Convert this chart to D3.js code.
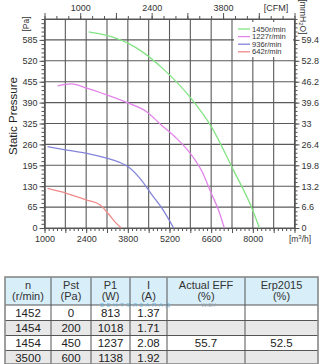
<!DOCTYPE html>
<html><head><meta charset="utf-8">
<script src="https://cdn.jsdelivr.net/npm/d3@7"></script>
<style>
body{margin:0;background:#fff;}
svg{display:block;font-family:"Liberation Sans",Arial,sans-serif;}
</style></head><body>
<svg id="c" width="324" height="364"></svg>
<script>
// ---- data ----
const seriesNames = ["1450r/min","1227r/min","936r/min","642r/min"];
const seriesColors = ["#84e484","#e284ea","#8484dc","#f08a8a"];
const green1450 = [[2480,610],[2900,603],[3290,594],[3800,575],[4300,547],[4950,498],[5890,407],[6600,316],[7310,187],[8020,50],[8220,0]];
const pink1227 = [[1440,442],[1700,447],[1910,448],[2420,435],[3090,414],[3800,389],[4440,361],[4950,318],[5390,283],[5890,233],[6300,174],[6600,109],[6870,50],[7040,0]];
const blue936 = [[1100,253],[1700,243],[2420,232],[3090,217],[3500,205],[3800,191],[4200,155],[4610,103],[4950,61],[5340,0]];
const red642 = [[1100,123],[1740,108],[2420,87],[2860,72],[3130,46],[3360,20],[3580,0]];
const seriesData = [green1450, pink1227, blue936, red642];

const xBottomLabels = [1000,2400,3800,5200,6600,8000];
const xTopLabels = [1000,2400,3800];
const yLeftLabels = [0,65,130,195,260,325,390,455,520,585];
const yRightLabels = [0,6.6,13.2,19.8,26.4,33,39.6,46.2,52.8,59.4];

const tableHeader1 = ["n","Pst","P1","I","Actual EFF","Erp2015"];
const tableHeader2 = ["(r/min)","(Pa)","(W)","(A)","(%)","(%)"];
const colN = ["1452","1454","1454","3500"];
const colPst = ["0","200","450","600"];
const colP1 = ["813","1018","1237","1138"];
const colI = ["1.37","1.71","2.08","1.92"];
const colEff = ["","","55.7",""];
const colErp = ["","","52.5",""];

// ---- chart ----
const svg = d3.select("#c");
const x = d3.scaleLinear().domain([1000,9400]).range([44.5,294.5]);
const y = d3.scaleLinear().domain([0,650]).range([228,19]);
const xTop = d3.scaleLinear().domain([300,5200]).range([44.5,294.5]);
const yR = d3.scaleLinear().domain([0,66]).range([228,19]);

const axisColor = "#555", txtColor = "#333";

// grid
const grid = svg.append("g");
grid.selectAll("line.v").data(d3.range(1000,9401,700)).join("line")
  .attr("x1",d=>x(d)).attr("x2",d=>x(d)).attr("y1",y(0)).attr("y2",y(650))
  .attr("stroke","#5a5a5a").attr("stroke-width",1.1);
grid.selectAll("line.h").data(d3.range(0,651,65)).join("line")
  .attr("x1",x(1000)).attr("x2",x(9400)).attr("y1",d=>y(d)).attr("y2",d=>y(d))
  .attr("stroke","#5a5a5a").attr("stroke-width",1.1);

function styleAxis(g){
  g.selectAll("path").attr("stroke",axisColor);
  g.selectAll("line").attr("stroke",axisColor);
  g.selectAll("text").attr("fill",txtColor).attr("font-size",9).attr("font-family","Liberation Sans, Arial, sans-serif");
}

// bottom
svg.append("g").attr("transform",`translate(0,${y(0)})`)
  .call(d3.axisBottom(x).tickValues(d3.range(1000,9401,140)).tickSize(3).tickFormat("").tickSizeOuter(0)).call(styleAxis);
svg.append("g").attr("transform",`translate(0,${y(0)})`)
  .call(d3.axisBottom(x).tickValues(d3.range(1000,9401,700)).tickSize(5).tickFormat(d=>xBottomLabels.includes(d)?d:"").tickSizeOuter(0).tickPadding(3)).call(styleAxis);
// top
svg.append("g").attr("transform",`translate(0,${y(650)})`)
  .call(d3.axisTop(xTop).tickValues(d3.range(300,5201,700/3)).tickSize(3).tickFormat("").tickSizeOuter(0)).call(styleAxis);
svg.append("g").attr("transform",`translate(0,${y(650)})`)
  .call(d3.axisTop(xTop).tickValues(d3.range(300,5201,700)).tickSize(6).tickFormat(d=>xTopLabels.includes(d)?d:"").tickSizeOuter(0).tickPadding(2)).call(styleAxis);
// left
svg.append("g").attr("transform",`translate(${x(1000)},0)`)
  .call(d3.axisLeft(y).tickValues(d3.range(0,651,13)).tickSize(3).tickFormat("").tickSizeOuter(0)).call(styleAxis);
svg.append("g").attr("transform",`translate(${x(1000)},0)`)
  .call(d3.axisLeft(y).tickValues(yLeftLabels).tickSize(5).tickPadding(2).tickSizeOuter(0)).call(styleAxis);
// right
svg.append("g").attr("transform",`translate(${x(9400)},0)`)
  .call(d3.axisRight(yR).tickValues(d3.range(0,66.01,1.32)).tickSize(3).tickFormat("").tickSizeOuter(0)).call(styleAxis);
svg.append("g").attr("transform",`translate(${x(9400)},0)`)
  .call(d3.axisRight(yR).tickValues(yRightLabels).tickSize(5).tickPadding(2).tickFormat(d=>d3.format("~g")(d)).tickSizeOuter(0)).call(styleAxis);

// unit labels
svg.append("text").attr("x",276).attr("y",11).attr("text-anchor","middle").attr("font-size",9).attr("fill",txtColor).text("[CFM]");
svg.append("text").attr("transform","translate(29,24) rotate(-90)").attr("text-anchor","middle").attr("font-size",8.5).attr("fill",txtColor).text("[Pa]");
svg.append("text").attr("transform","translate(300,17) rotate(90)").attr("text-anchor","middle").attr("font-size",8.5).attr("fill",txtColor)
  .html('[mmH<tspan font-size="6" dy="1.5">2</tspan><tspan dy="-1.5">O]</tspan>');
svg.append("text").attr("x",300).attr("y",242).attr("text-anchor","middle").attr("font-size",8.5).attr("fill",txtColor)
  .html('[m<tspan font-size="6" dy="-3">3</tspan><tspan dy="3">/h]</tspan>');
svg.append("text").attr("transform","translate(17,116) rotate(-90)").attr("text-anchor","middle").attr("font-size",11.5).attr("fill","#222").text("Static Pressure");

// curves
const line = d3.line().x(d=>x(d[0])).y(d=>y(d[1])).curve(d3.curveMonotoneX);
svg.append("g").selectAll("path").data(seriesData).join("path")
  .attr("d",line).attr("fill","none").attr("stroke",(d,i)=>seriesColors[i]).attr("stroke-width",1.3);

// legend
const lg = svg.append("g");
lg.append("rect").attr("x",234).attr("y",22).attr("width",59).attr("height",35).attr("fill","#fff");
seriesNames.forEach((n,i)=>{
  const yy = 29 + i*7.6;
  lg.append("line").attr("x1",238).attr("x2",250).attr("y1",yy).attr("y2",yy).attr("stroke",seriesColors[i]).attr("stroke-width",1.3);
  lg.append("text").attr("x",252).attr("y",yy+2.6).attr("font-size",7.6).attr("fill",txtColor).text(n);
});

// ---- table ----
const colX = [5,51,91,130,167,245,318];
const rowY = [277,305,320.5,335.5,350.5,364];
const tb = svg.append("g");
const rowFills = ["#d8eef9","#ffffff","#e8e8e8","#ffffff","#e8e8e8"];
tb.selectAll("rect.r").data(rowFills).join("rect")
  .attr("x",colX[0]).attr("y",(d,i)=>rowY[i]).attr("width",colX[6]-colX[0]).attr("height",(d,i)=>rowY[i+1]-rowY[i]).attr("fill",d=>d);
tb.selectAll("line.hl").data(rowY.slice(1,5)).join("line")
  .attr("x1",colX[0]).attr("x2",colX[6]).attr("y1",d=>d).attr("y2",d=>d).attr("stroke","#555").attr("stroke-width",1);
tb.selectAll("line.vl").data(colX.slice(1,6)).join("line")
  .attr("x1",d=>d).attr("x2",d=>d).attr("y1",rowY[0]).attr("y2",rowY[5]).attr("stroke","#555").attr("stroke-width",1);
tb.append("rect").attr("x",colX[0]).attr("y",rowY[0]).attr("width",colX[6]-colX[0]).attr("height",rowY[5]-rowY[0])
  .attr("fill","none").attr("stroke","#888").attr("stroke-width",1.6);

const cx = i => (colX[i]+colX[i+1])/2;
tableHeader1.forEach((t,i)=>{
  tb.append("text").attr("x",cx(i)).attr("y",289).attr("text-anchor","middle").attr("font-size",11).attr("fill",txtColor).text(t);
  tb.append("text").attr("x",cx(i)).attr("y",300).attr("text-anchor","middle").attr("font-size",11).attr("fill",txtColor).text(tableHeader2[i]);
});
const cols = [colN,colPst,colP1,colI,colEff,colErp];
cols.forEach((col,ci)=>{
  col.forEach((v,ri)=>{
    tb.append("text").attr("x",cx(ci)).attr("y",(rowY[ri+1]+rowY[ri+2])/2+4.3).attr("text-anchor","middle")
      .attr("font-size",11.5).attr("fill","#222").text(v);
  });
});

// watermark
svg.append("text").attr("x",100).attr("y",307.3).attr("font-size",6.2).attr("letter-spacing",2.4).attr("fill","#5aa8d8").attr("opacity",0.75).text("ВЕНТЭЛЗАПАД");
svg.append("text").attr("x",201).attr("y",307.3).attr("font-size",6.2).attr("fill","#8a9aa8").attr("opacity",0.7).text("W.BY");
</script>
</body></html>
